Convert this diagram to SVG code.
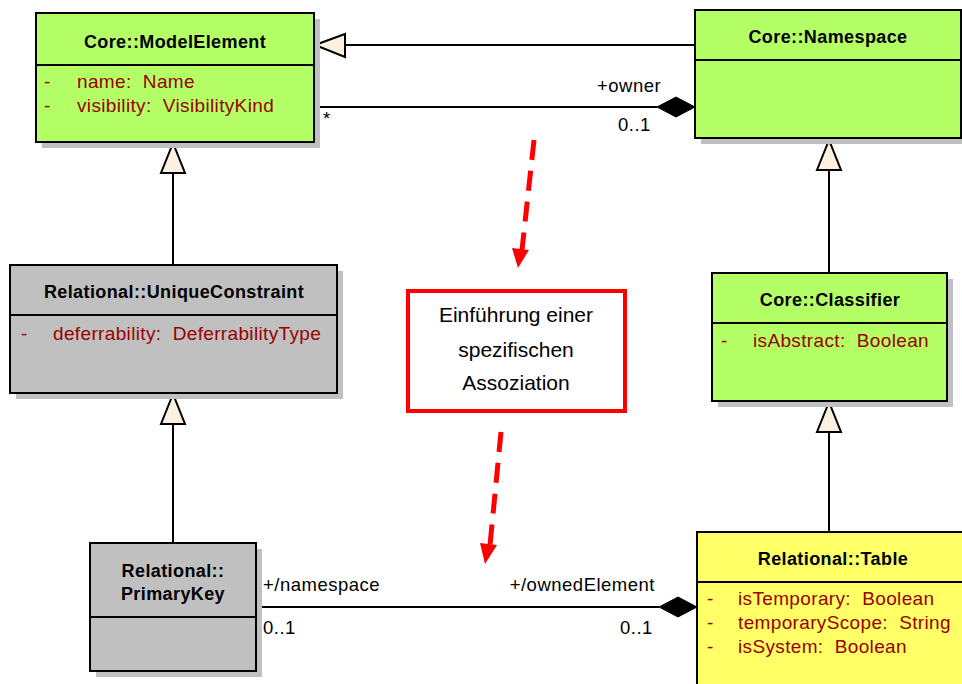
<svg xmlns="http://www.w3.org/2000/svg" width="962" height="684" viewBox="0 0 962 684">
  <defs>
    <style>
      .shadow { fill: #c0c0c0; }
      .box { stroke: #000; stroke-width: 2; }
      .green { fill: #b5ff66; }
      .gray { fill: #c0c0c0; }
      .yellow { fill: #ffff66; }
      .div { stroke: #000; stroke-width: 2; }
      .title { font-family: "Liberation Sans", Arial, sans-serif; font-weight: bold; font-size: 18px; letter-spacing: 0.4px; fill: #000; text-anchor: middle; }
      .attr { font-family: "Liberation Sans", Arial, sans-serif; font-size: 19px; letter-spacing: 0.35px; fill: #990000; }
      .lbl { font-family: "Liberation Sans", Arial, sans-serif; font-size: 18.5px; letter-spacing: 0.5px; fill: #000; }
      .line { stroke: #000; stroke-width: 2; fill: none; }
      .tri { fill: #fcf0e0; stroke: #000; stroke-width: 2; stroke-linejoin: miter; }
      .dia { fill: #000; stroke: #000; stroke-width: 1; }
      .red { stroke: #ff0000; stroke-width: 5; fill: none; stroke-dasharray: 20 11; }
      .note { font-family: "Liberation Sans", Arial, sans-serif; font-size: 21px; fill: #000; text-anchor: middle; }
    </style>
  </defs>

  <!-- connectors -->
  <g id="connectors">
    <!-- Namespace generalizes ModelElement -->
    <line class="line" x1="695" y1="45" x2="345" y2="45"/>
    <polygon class="tri" points="315,45 345,34 345,57"/>
    <!-- owner composition -->
    <line class="line" x1="314" y1="107" x2="657" y2="107"/>
    <polygon class="dia" points="657,107 676,97 695,107 676,117"/>
    <text class="lbl" x="597" y="92">+owner</text>
    <text class="lbl" x="618" y="131">0..1</text>
    <text class="lbl" x="323" y="125">*</text>
    <!-- UniqueConstraint generalizes ModelElement -->
    <line class="line" x1="173" y1="265" x2="173" y2="173"/>
    <polygon class="tri" points="173,143 161,173 185,173"/>
    <!-- PrimaryKey generalizes UniqueConstraint -->
    <line class="line" x1="173" y1="543" x2="173" y2="424"/>
    <polygon class="tri" points="173,394 161,424 185,424"/>
    <!-- Classifier generalizes Namespace -->
    <line class="line" x1="829" y1="273" x2="829" y2="170"/>
    <polygon class="tri" points="829,140 817,170 841,170"/>
    <!-- Table generalizes Classifier -->
    <line class="line" x1="829" y1="532" x2="829" y2="432"/>
    <polygon class="tri" points="829,402 817,432 841,432"/>
    <!-- namespace / ownedElement composition -->
    <line class="line" x1="256" y1="607" x2="659" y2="607"/>
    <polygon class="dia" points="659,607 678,597 697,607 678,617"/>
    <text class="lbl" x="263" y="591">+/namespace</text>
    <text class="lbl" x="263" y="634">0..1</text>
    <text class="lbl" x="655" y="591" text-anchor="end">+/ownedElement</text>
    <text class="lbl" x="620" y="634">0..1</text>
    <!-- red dashed arrows -->
    <line class="red" x1="534" y1="140" x2="522" y2="250"/>
    <polygon points="512,248 529,250 518,268" fill="#ff0000"/>
    <line class="red" x1="501" y1="432" x2="490" y2="545"/>
    <polygon points="480,543 497,545 485,564" fill="#ff0000"/>
  </g>

  <!-- Core::ModelElement -->
  <g id="modelElement">
    <rect class="shadow" x="42" y="19" width="278" height="129"/>
    <rect class="box green" x="36" y="13" width="278" height="129"/>
    <line class="div" x1="36" y1="65" x2="314" y2="65"/>
    <text class="title" x="175" y="48">Core::ModelElement</text>
    <text class="attr" x="44" y="88">-</text>
    <text class="attr" x="77" y="88" xml:space="preserve">name:  Name</text>
    <text class="attr" x="44" y="112">-</text>
    <text class="attr" x="77" y="112" xml:space="preserve">visibility:  VisibilityKind</text>
  </g>

  <!-- Core::Namespace -->
  <g id="namespace">
    <rect class="shadow" x="701" y="16" width="270" height="128"/>
    <rect class="box green" x="695" y="10" width="266" height="128"/>
    <line class="div" x1="695" y1="60" x2="961" y2="60"/>
    <text class="title" x="828" y="43">Core::Namespace</text>
  </g>

  <!-- Relational::UniqueConstraint -->
  <g id="uniqueConstraint">
    <rect class="shadow" x="16" y="271" width="327" height="128"/>
    <rect class="box gray" x="10" y="265" width="327" height="128"/>
    <line class="div" x1="10" y1="315" x2="337" y2="315"/>
    <text class="title" x="174" y="298">Relational::UniqueConstraint</text>
    <text class="attr" x="21" y="340">-</text>
    <text class="attr" x="53" y="340" xml:space="preserve">deferrability:  DeferrabilityType</text>
  </g>

  <!-- Core::Classifier -->
  <g id="classifier">
    <rect class="shadow" x="718" y="279" width="235" height="128"/>
    <rect class="box green" x="712" y="273" width="235" height="128"/>
    <line class="div" x1="712" y1="323" x2="947" y2="323"/>
    <text class="title" x="830" y="306">Core::Classifier</text>
    <text class="attr" x="721" y="347">-</text>
    <text class="attr" x="753" y="347" xml:space="preserve">isAbstract:  Boolean</text>
  </g>

  <!-- Relational::PrimaryKey -->
  <g id="primaryKey">
    <rect class="shadow" x="96" y="549" width="166" height="128"/>
    <rect class="box gray" x="90" y="543" width="166" height="128"/>
    <line class="div" x1="90" y1="617" x2="256" y2="617"/>
    <text class="title" x="173" y="577">Relational::</text>
    <text class="title" x="173" y="600">PrimaryKey</text>
  </g>

  <!-- Relational::Table -->
  <g id="table">
    <rect class="shadow" x="703" y="538" width="270" height="160"/>
    <rect class="box yellow" x="697" y="532" width="272" height="160"/>
    <line class="div" x1="697" y1="582" x2="969" y2="582"/>
    <text class="title" x="833" y="565">Relational::Table</text>
    <text class="attr" x="707" y="605">-</text>
    <text class="attr" x="738" y="605" xml:space="preserve">isTemporary:  Boolean</text>
    <text class="attr" x="707" y="629">-</text>
    <text class="attr" x="738" y="629" xml:space="preserve">temporaryScope:  String</text>
    <text class="attr" x="707" y="653">-</text>
    <text class="attr" x="738" y="653" xml:space="preserve">isSystem:  Boolean</text>
  </g>

  <!-- note box -->
  <g id="note">
    <rect x="408" y="291" width="217" height="120" fill="#fff" stroke="#ff0000" stroke-width="4"/>
    <text class="note" x="516" y="322">Einführung einer</text>
    <text class="note" x="516" y="357">spezifischen</text>
    <text class="note" x="516" y="390">Assoziation</text>
  </g>
</svg>
